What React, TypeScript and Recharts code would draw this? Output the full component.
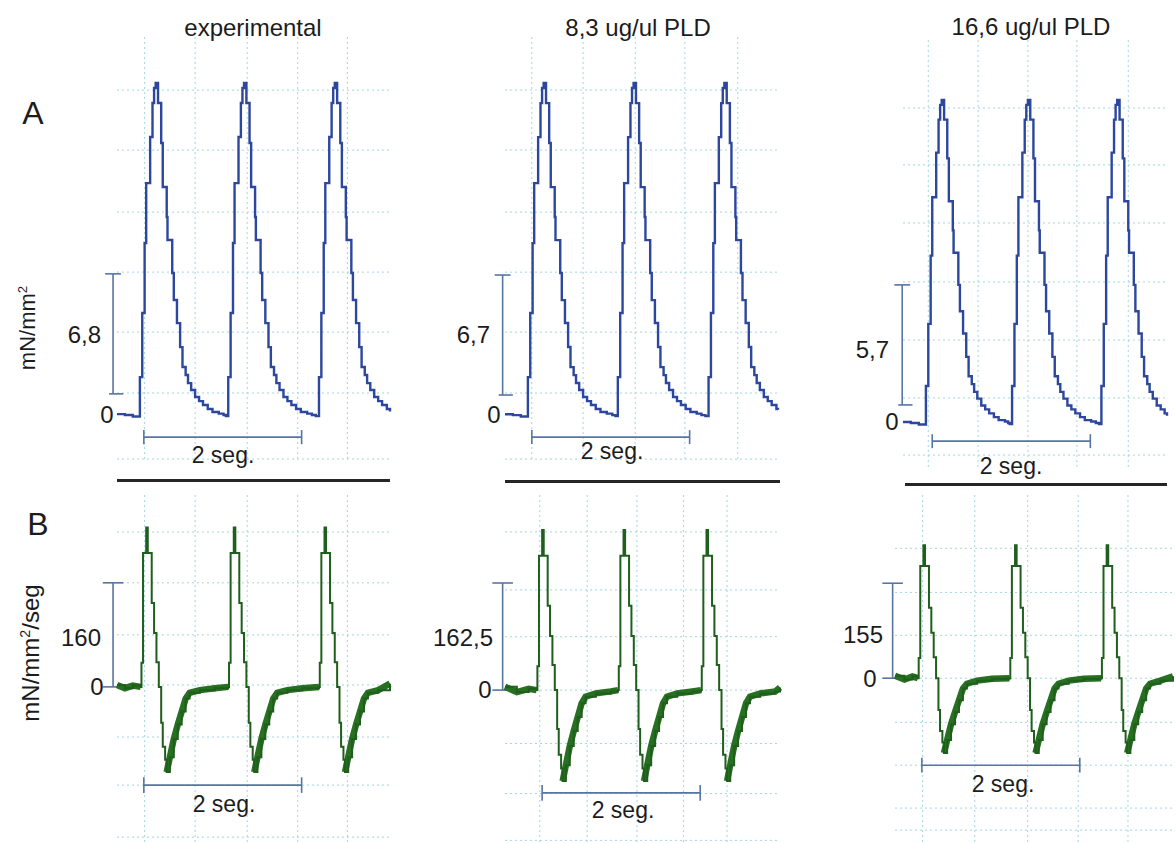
import React from "react";
import { LineChart, Line, XAxis, YAxis, CartesianGrid, ReferenceLine } from "recharts";

// Row A: developed force, mN/mm² vs time (s). rows: [t, value]
const forceExp = [
  [0, 0.05], [0.1, 0], [0.2, -0.08],
  [0.29, 2.15], [0.32, 5.78], [0.35, 9.75], [0.37, 13.14], [0.42, 15.75], [0.45, 17.68], [0.47, 18.53], [0.49, 18.81],
  [0.52, 17.68], [0.56, 15.41], [0.58, 12.92], [0.63, 11.22], [0.64, 9.92], [0.7, 8.05], [0.72, 6.52], [0.76, 5.21],
  [0.8, 3.85], [0.83, 2.72], [0.87, 2.27], [0.9, 1.81], [0.94, 1.42], [0.99, 1.02], [1.04, 0.79], [1.09, 0.57],
  [1.15, 0.34], [1.21, 0.17], [1.29, 0.08], [1.35, 0], [1.38, -0.06],
  [1.41, 2.15], [1.44, 5.78], [1.47, 9.75], [1.49, 13.14], [1.54, 15.75], [1.57, 17.68], [1.59, 18.53], [1.61, 18.81],
  [1.64, 17.68], [1.68, 15.41], [1.7, 12.92], [1.75, 11.22], [1.76, 9.92], [1.82, 8.05], [1.84, 6.52], [1.88, 5.21],
  [1.92, 3.85], [1.95, 2.72], [1.99, 2.27], [2.02, 1.81], [2.06, 1.42], [2.11, 1.02], [2.16, 0.79], [2.21, 0.57],
  [2.27, 0.34], [2.33, 0.17], [2.41, 0.08], [2.47, 0], [2.52, -0.06],
  [2.56, 2.15], [2.59, 5.78], [2.62, 9.75], [2.64, 13.14], [2.69, 15.75], [2.72, 17.68], [2.74, 18.53], [2.76, 18.81],
  [2.79, 17.68], [2.83, 15.41], [2.85, 12.92], [2.9, 11.22], [2.91, 9.92], [2.97, 8.05], [2.99, 6.52], [3.03, 5.21],
  [3.07, 3.85], [3.1, 2.72], [3.14, 2.27], [3.17, 1.81], [3.21, 1.42], [3.26, 1.02], [3.31, 0.79], [3.36, 0.57],
  [3.42, 0.34], [3.46, 0.2],
];

const force83 = [
  [0, 0.05], [0.1, 0], [0.2, -0.08],
  [0.29, 2.12], [0.32, 5.7], [0.35, 9.6], [0.37, 12.95], [0.42, 15.52], [0.45, 17.42], [0.47, 18.26], [0.49, 18.54],
  [0.52, 17.42], [0.56, 15.19], [0.58, 12.73], [0.63, 11.06], [0.64, 9.77], [0.7, 7.93], [0.72, 6.42], [0.76, 5.14],
  [0.8, 3.8], [0.83, 2.68], [0.87, 2.23], [0.9, 1.79], [0.94, 1.4], [0.99, 1.01], [1.04, 0.78], [1.09, 0.56],
  [1.15, 0.34], [1.21, 0.17], [1.29, 0.08], [1.36, 0], [1.4, -0.06],
  [1.43, 2.12], [1.46, 5.7], [1.49, 9.6], [1.51, 12.95], [1.56, 15.52], [1.59, 17.42], [1.61, 18.26], [1.63, 18.54],
  [1.66, 17.42], [1.7, 15.19], [1.72, 12.73], [1.77, 11.06], [1.78, 9.77], [1.84, 7.93], [1.86, 6.42], [1.9, 5.14],
  [1.94, 3.8], [1.97, 2.68], [2.01, 2.23], [2.04, 1.79], [2.08, 1.4], [2.13, 1.01], [2.18, 0.78], [2.23, 0.56],
  [2.29, 0.34], [2.35, 0.17], [2.43, 0.08], [2.49, 0], [2.54, -0.06],
  [2.58, 2.12], [2.61, 5.7], [2.64, 9.6], [2.66, 12.95], [2.71, 15.52], [2.74, 17.42], [2.76, 18.26], [2.78, 18.54],
  [2.81, 17.42], [2.85, 15.19], [2.87, 12.73], [2.92, 11.06], [2.93, 9.77], [2.99, 7.93], [3.01, 6.42], [3.05, 5.14],
  [3.09, 3.8], [3.12, 2.68], [3.16, 2.23], [3.19, 1.79], [3.23, 1.4], [3.28, 1.01], [3.33, 0.78], [3.38, 0.56],
  [3.44, 0.34], [3.46, 0.3],
];

const force166 = [
  [0, 0.05], [0.1, 0], [0.2, -0.07],
  [0.29, 1.76], [0.32, 4.71], [0.35, 7.95], [0.37, 10.72], [0.42, 12.84], [0.45, 14.41], [0.47, 15.11], [0.49, 15.34],
  [0.52, 14.41], [0.56, 12.57], [0.58, 10.53], [0.63, 9.15], [0.64, 8.09], [0.7, 6.56], [0.72, 5.31], [0.76, 4.25],
  [0.8, 3.14], [0.83, 2.22], [0.87, 1.85], [0.9, 1.48], [0.94, 1.16], [0.99, 0.83], [1.04, 0.65], [1.09, 0.46],
  [1.15, 0.28], [1.21, 0.14], [1.29, 0.07], [1.33, 0], [1.35, -0.05],
  [1.38, 1.76], [1.41, 4.71], [1.44, 7.95], [1.46, 10.72], [1.51, 12.84], [1.54, 14.41], [1.56, 15.11], [1.58, 15.34],
  [1.61, 14.41], [1.65, 12.57], [1.67, 10.53], [1.72, 9.15], [1.73, 8.09], [1.79, 6.56], [1.81, 5.31], [1.85, 4.25],
  [1.89, 3.14], [1.92, 2.22], [1.96, 1.85], [1.99, 1.48], [2.03, 1.16], [2.08, 0.83], [2.13, 0.65], [2.18, 0.46],
  [2.24, 0.28], [2.3, 0.14], [2.38, 0.07], [2.44, 0], [2.48, -0.05],
  [2.51, 1.76], [2.54, 4.71], [2.57, 7.95], [2.59, 10.72], [2.64, 12.84], [2.67, 14.41], [2.69, 15.11], [2.71, 15.34],
  [2.74, 14.41], [2.78, 12.57], [2.8, 10.53], [2.85, 9.15], [2.86, 8.09], [2.92, 6.56], [2.94, 5.31], [2.98, 4.25],
  [3.02, 3.14], [3.05, 2.22], [3.09, 1.85], [3.12, 1.48], [3.16, 1.16], [3.21, 0.83], [3.26, 0.65], [3.31, 0.46],
  [3.34, 0.35],
];

// Row B: dF/dt, mN/mm²/seg vs time (s). rows: [t, value, noisy?]
const dfdtExp = [
  [0, 3, 1], [0.1, -2, 1], [0.2, 2, 1], [0.3, 0, 1],
  [0.31, 37], [0.33, 206], [0.37, 245], [0.39, 206], [0.44, 129], [0.47, 83], [0.5, 38], [0.53, 0], [0.56, -55], [0.58, -92],
  [0.61, -112], [0.63, -131, 1], [0.67, -108, 1], [0.72, -80, 1], [0.77, -58, 1], [0.82, -38, 1], [0.87, -18, 1], [0.92, -9, 1],
  [1.05, -5, 1], [1.24, -2, 1], [1.41, 0, 1],
  [1.42, 37], [1.44, 206], [1.48, 245], [1.5, 206], [1.55, 129], [1.58, 83], [1.61, 38], [1.64, 0], [1.67, -55], [1.69, -92],
  [1.72, -112], [1.74, -131, 1], [1.78, -108, 1], [1.83, -80, 1], [1.88, -58, 1], [1.93, -38, 1], [1.98, -18, 1], [2.03, -9, 1],
  [2.16, -5, 1], [2.35, -2, 1], [2.56, 0, 1],
  [2.57, 37], [2.59, 206], [2.63, 245], [2.65, 206], [2.7, 129], [2.73, 83], [2.76, 38], [2.79, 0], [2.82, -55], [2.84, -92],
  [2.87, -112], [2.89, -131, 1], [2.93, -108, 1], [2.98, -80, 1], [3.03, -58, 1], [3.08, -38, 1], [3.13, -18, 1], [3.18, -9, 1],
  [3.31, -5, 1], [3.46, 5, 1],
];

const dfdt83 = [
  [0, 5, 1], [0.15, -3, 1], [0.3, 2, 1], [0.4, 0, 1],
  [0.41, 36], [0.43, 204], [0.47, 243], [0.49, 204], [0.54, 128], [0.57, 82], [0.6, 38], [0.63, 0], [0.66, -59], [0.68, -98],
  [0.71, -119], [0.73, -138, 1], [0.77, -114, 1], [0.82, -85, 1], [0.87, -62, 1], [0.92, -41, 1], [0.97, -20, 1], [1.02, -10, 1],
  [1.15, -5, 1], [1.34, -2, 1], [1.43, 0, 1],
  [1.44, 36], [1.46, 204], [1.5, 243], [1.52, 204], [1.57, 128], [1.6, 82], [1.63, 38], [1.66, 0], [1.69, -59], [1.71, -98],
  [1.74, -119], [1.76, -138, 1], [1.8, -114, 1], [1.85, -85, 1], [1.9, -62, 1], [1.95, -41, 1], [2.0, -20, 1], [2.05, -10, 1],
  [2.18, -5, 1], [2.37, -2, 1], [2.48, 0, 1],
  [2.49, 36], [2.51, 204], [2.55, 243], [2.57, 204], [2.62, 128], [2.65, 82], [2.68, 38], [2.71, 0], [2.74, -59], [2.76, -98],
  [2.79, -119], [2.81, -138, 1], [2.85, -114, 1], [2.9, -85, 1], [2.95, -62, 1], [3.0, -41, 1], [3.05, -20, 1], [3.1, -10, 1],
  [3.23, -5, 1], [3.42, -2, 1], [3.48, 4, 1],
];

const dfdt166 = [
  [0, 4, 1], [0.12, -2, 1], [0.22, 3, 1], [0.29, 0, 1],
  [0.3, 33], [0.32, 183], [0.36, 217], [0.38, 183], [0.43, 115], [0.46, 74], [0.49, 34], [0.52, 0], [0.55, -52], [0.57, -86],
  [0.6, -105], [0.62, -122, 1], [0.66, -101, 1], [0.71, -75, 1], [0.76, -55, 1], [0.81, -36, 1], [0.86, -17, 1], [0.91, -9, 1],
  [1.04, -4, 1], [1.23, -1, 1], [1.45, 0, 1],
  [1.46, 33], [1.48, 183], [1.52, 217], [1.54, 183], [1.59, 115], [1.62, 74], [1.65, 34], [1.68, 0], [1.71, -52], [1.73, -86],
  [1.76, -105], [1.78, -122, 1], [1.82, -101, 1], [1.87, -75, 1], [1.92, -55, 1], [1.97, -36, 1], [2.02, -17, 1], [2.07, -9, 1],
  [2.2, -4, 1], [2.39, -1, 1], [2.61, 0, 1],
  [2.62, 33], [2.64, 183], [2.68, 217], [2.7, 183], [2.75, 115], [2.78, 74], [2.81, 34], [2.84, 0], [2.87, -52], [2.89, -86],
  [2.92, -105], [2.94, -122, 1], [2.98, -101, 1], [3.03, -75, 1], [3.08, -55, 1], [3.13, -36, 1], [3.18, -17, 1], [3.23, -9, 1],
  [3.36, -4, 1], [3.52, 3, 1],
];

const TITLES = ["experimental", "8,3 ug/ul PLD", "16,6 ug/ul PLD"];
const FORCE_CAL = [6.8, 6.7, 5.7];
const DFDT_CAL = [160, 162.5, 155];

// recorder grid lines, in data units
const gridXA = [[0.35, 0.99, 1.65, 2.29, 2.92], [0.34, 0.99, 1.65, 2.28, 2.95], [0.32, 0.95, 1.58, 2.2, 2.85]];
const gridYA = [
  [18.41, 15.01, 11.5, 8.1, 4.7, 1.25, -2.49],
  [18.15, 14.8, 11.33, 7.98, 4.63, 1.23, -2.46],
  [14.96, 12.26, 9.5, 6.7, 3.94, 1.19, -1.52],
];
const gridXB = [[0.35, 0.99, 1.65, 2.29, 2.92], [0.44, 1.04, 1.67, 2.26, 2.81], [0.35, 1.01, 1.68, 2.32, 2.95]];
const gridYB = [
  [238, 160, 80, 3, -77, -151, -231],
  [240, 152, 81, 0, -81, -157, -228],
  [212, 140, 70, 0, -72, -142, -212, -248],
];

const FONT = "'Liberation Sans', Arial, sans-serif";
const BLUE = "#2c479d";
const GREEN = "#1f5e1c";
const BAR = "#5874a3";
const GRID = "#a2d6e0";

type Panel = {
  rows: number[][];
  left: number; top: number; width: number; height: number;
  xDomain: [number, number]; yDomain: [number, number];
  gridX: number[]; gridY: number[];
  kind: "force" | "dfdt";
  cal: number; barX: number; barBase: number; tick: number;
  segStart: number; segY: number; segTick: number;
  color: string;
};

const panels: Panel[] = [
  { rows: forceExp, left: 117, top: 37, width: 273, height: 425, xDomain: [0, 3.46], yDomain: [-2.66, 21.42],
    gridX: gridXA[0], gridY: gridYA[0], kind: "force", cal: FORCE_CAL[0], barX: -0.05, barBase: 1.2, tick: 0.1,
    segStart: 0.34, segY: -1.25, segTick: 0.4, color: BLUE },
  { rows: force83, left: 505, top: 37, width: 273, height: 425, xDomain: [0, 3.46], yDomain: [-2.62, 21.11],
    gridX: gridXA[1], gridY: gridYA[1], kind: "force", cal: FORCE_CAL[1], barX: -0.03, barBase: 1.12, tick: 0.1,
    segStart: 0.34, segY: -1.23, segTick: 0.39, color: BLUE },
  { rows: force166, left: 903, top: 40, width: 264, height: 430, xDomain: [0, 3.34], yDomain: [-2.23, 18.19],
    gridX: gridXA[2], gridY: gridYA[2], kind: "force", cal: FORCE_CAL[2], barX: -0.01, barBase: 0.86, tick: 0.1,
    segStart: 0.37, segY: -0.86, segTick: 0.33, color: BLUE },
  { rows: dfdtExp, left: 117, top: 495, width: 273, height: 348, xDomain: [0, 3.46], yDomain: [-240, 295],
    gridX: gridXB[0], gridY: gridYB[0], kind: "dfdt", cal: DFDT_CAL[0], barX: -0.05, barBase: 0, tick: 0.13,
    segStart: 0.34, segY: -151, segTick: 12, color: GREEN },
  { rows: dfdt83, left: 505, top: 495, width: 275, height: 348, xDomain: [0, 3.48], yDomain: [-232, 296],
    gridX: gridXB[1], gridY: gridYB[1], kind: "dfdt", cal: DFDT_CAL[1], barX: -0.03, barBase: 0, tick: 0.13,
    segStart: 0.47, segY: -156, segTick: 12, color: GREEN },
  { rows: dfdt166, left: 895, top: 495, width: 278, height: 348, xDomain: [0, 3.52], yDomain: [-269, 299],
    gridX: gridXB[2], gridY: gridYB[2], kind: "dfdt", cal: DFDT_CAL[2], barX: -0.03, barBase: 0, tick: 0.13,
    segStart: 0.34, segY: -142, segTick: 12, color: GREEN },
];

function Trace({ p }: { p: Panel }) {
  const data = p.rows.map(([t, v, n]) => ({ t, v, band: n ? v : null }));
  const top = p.barBase + p.cal;
  const ref = { stroke: BAR, strokeWidth: 1.6, ifOverflow: "visible" as const };
  // grid only at the recorder divisions (no frame at the plot edges): map division values into the plot box
  const [x0, x1] = p.xDomain;
  const [y0, y1] = p.yDomain;
  const hGen = ({ offset }: any) =>
    p.gridY.map((v) => offset.top + ((y1 - v) / (y1 - y0)) * offset.height);
  const vGen = ({ offset }: any) =>
    p.gridX.map((v) => offset.left + ((v - x0) / (x1 - x0)) * offset.width);
  return (
    <div style={{ position: "absolute", left: p.left, top: p.top }}>
      <LineChart width={p.width} height={p.height} data={data} margin={{ top: 0, right: 0, bottom: 0, left: 0 }}>
        <XAxis type="number" dataKey="t" domain={p.xDomain} ticks={p.gridX} hide />
        <YAxis type="number" domain={p.yDomain} ticks={p.gridY} hide />
        <CartesianGrid stroke={GRID} strokeDasharray="2 3"
          horizontalCoordinatesGenerator={hGen} verticalCoordinatesGenerator={vGen} />
        {/* calibration bar */}
        <ReferenceLine {...ref} segment={[{ x: p.barX, y: p.barBase }, { x: p.barX, y: top }]} />
        <ReferenceLine {...ref} segment={[{ x: p.barX - p.tick, y: top }, { x: p.barX + p.tick, y: top }]} />
        {p.kind === "force" ? (
          <ReferenceLine {...ref} segment={[{ x: p.barX - 0.05, y: p.barBase }, { x: p.barX + 0.13, y: p.barBase }]} />
        ) : (
          <ReferenceLine {...ref} segment={[{ x: p.barX - 0.13, y: 0 }, { x: p.barX + 0.06, y: 0 }]} />
        )}
        {/* 2 seg bar */}
        <ReferenceLine {...ref} segment={[{ x: p.segStart, y: p.segY }, { x: p.segStart + 2, y: p.segY }]} />
        <ReferenceLine {...ref} segment={[{ x: p.segStart, y: p.segY - p.segTick }, { x: p.segStart, y: p.segY + p.segTick }]} />
        <ReferenceLine {...ref} segment={[{ x: p.segStart + 2, y: p.segY - p.segTick }, { x: p.segStart + 2, y: p.segY + p.segTick }]} />
        {p.kind === "dfdt" && (
          <Line type="linear" dataKey="band" stroke="#276f21" strokeWidth={6.5}
            dot={false} isAnimationActive={false} />
        )}
        <Line type="stepAfter" dataKey="v" stroke={p.color} strokeWidth={p.kind === "force" ? 2.4 : 2}
          dot={false} isAnimationActive={false} />
      </LineChart>
    </div>
  );
}

function Label({ x, y, text, size = 22, align = "center", rotate = false }: {
  x: number; y: number; text: React.ReactNode; size?: number; align?: "center" | "right"; rotate?: boolean;
}) {
  const tx = align === "right" ? "-100%" : "-50%";
  return (
    <div style={{
      position: "absolute", left: x, top: y, fontSize: size, fontFamily: FONT, color: "#1c1c1c",
      whiteSpace: "nowrap", lineHeight: 1,
      transform: `translate(${tx}, -50%)${rotate ? " rotate(-90deg)" : ""}`,
    }}>{text}</div>
  );
}

export default function App() {
  return (
    <div style={{ position: "absolute", left: 0, top: 0, width: 1176, height: 843, background: "#fff", overflow: "hidden" }}>
      <style>{".recharts-surface{overflow:visible}"}</style>
      {panels.map((p, i) => <Trace key={i} p={p} />)}

      <Label x={253} y={28} text={TITLES[0]} size={24} />
      <Label x={638} y={28} text={TITLES[1]} size={24} />
      <Label x={1031} y={27} text={TITLES[2]} size={24} />

      <Label x={33} y={113} text="A" size={32} />
      <Label x={38} y={524} text="B" size={32} />
      <Label x={28} y={328} text={<span>mN/mm<sup style={{ fontSize: "0.6em" }}>2</sup></span>} size={22} rotate />
      <Label x={30} y={653} text={<span>mN/mm<sup style={{ fontSize: "0.6em" }}>2</sup>/seg</span>} size={24} rotate />

      <Label x={101} y={335} text={FORCE_CAL[0].toString().replace(".", ",")} size={24} align="right" />
      <Label x={107} y={415} text="0" size={24} />
      <Label x={490} y={335} text={FORCE_CAL[1].toString().replace(".", ",")} size={24} align="right" />
      <Label x={494} y={415} text="0" size={24} />
      <Label x={889} y={350} text={FORCE_CAL[2].toString().replace(".", ",")} size={24} align="right" />
      <Label x={892} y={422} text="0" size={24} />

      <Label x={101} y={638} text={String(DFDT_CAL[0])} size={24} align="right" />
      <Label x={97} y={687} text="0" size={24} />
      <Label x={493} y={638} text={DFDT_CAL[1].toString().replace(".", ",")} size={24} align="right" />
      <Label x={485} y={690} text="0" size={24} />
      <Label x={883} y={635} text={String(DFDT_CAL[2])} size={24} align="right" />
      <Label x={870} y={679} text="0" size={24} />

      <Label x={223} y={455} text="2 seg." size={23} />
      <Label x={612} y={451} text="2 seg." size={23} />
      <Label x={1011} y={466} text="2 seg." size={23} />
      <Label x={224} y={804} text="2 seg." size={23} />
      <Label x={623} y={810} text="2 seg." size={23} />
      <Label x={1003} y={784} text="2 seg." size={23} />

      {/* row separators */}
      <div style={{ position: "absolute", left: 117, top: 479, width: 273, height: 3, background: "#262626" }} />
      <div style={{ position: "absolute", left: 505, top: 480, width: 275, height: 3, background: "#262626" }} />
      <div style={{ position: "absolute", left: 905, top: 483, width: 262, height: 3, background: "#262626" }} />
    </div>
  );
}
